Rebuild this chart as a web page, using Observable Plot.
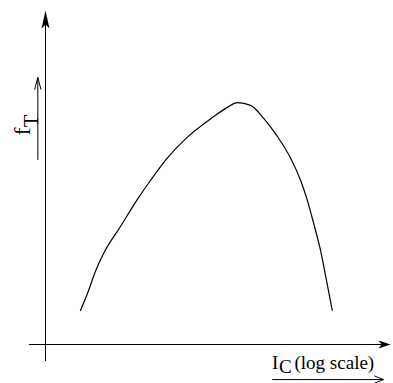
<!DOCTYPE html>
<html><head><meta charset="utf-8">
<script src="https://cdn.jsdelivr.net/npm/d3@7"></script>
<script src="https://cdn.jsdelivr.net/npm/@observablehq/plot@0.6"></script>
<style>body{margin:0;background:#fff}</style>
</head><body><div id="chart"></div>
<script>
// f_T versus I_C (log scale), arbitrary units (0..100 on each axis)
const curveX = [10.2,12.2,14.6,17.0,21.9,26.7,30.6,35.5,41.3,48.1,53.0,56.0,59.8,63.6,67.6,71.4,74.3,76.3,78.2,80.2,82.1,83.6];
const curveY = [10.2,15.2,22.0,27.4,35.4,43.3,49.1,55.8,62.0,67.5,71.0,72.4,71.6,67.7,62.3,55.9,49.3,43.3,36.2,28.1,18.2,10.2];
const xLabelParts = ["I", "C", "(log scale)"];
const yLabelParts = ["f", "T"];

const curve = curveX.map((x, i) => ({x, y: curveY[i]}));
const font = "'Liberation Serif', 'Times New Roman', serif";

const stealthY = {draw(ctx){ ctx.moveTo(0,0); ctx.lineTo(4,18); ctx.lineTo(0,14); ctx.lineTo(-4,18); ctx.closePath(); }};
const stealthX = {draw(ctx){ ctx.moveTo(0,0); ctx.lineTo(4,12); ctx.lineTo(0,9); ctx.lineTo(-4,12); ctx.closePath(); }};

const plot = Plot.plot({
  width: 393, height: 383,
  marginLeft: 45, marginRight: 5, marginTop: 10, marginBottom: 39,
  x: {domain: [0, 100], axis: null},
  y: {domain: [0, 100], axis: null},
  style: {background: "#fff", fontFamily: font},
  marks: [
    // axes
    Plot.ruleX([0], {y1: -5.1, y2: 97, stroke: "#000", strokeWidth: 1}),
    Plot.ruleY([0], {x1: -4.7, x2: 99, stroke: "#000", strokeWidth: 1}),
    Plot.dot([{x: 0, y: 100}], {x: "x", y: "y", symbol: stealthY, fill: "#000", stroke: "none"}),
    Plot.dot([{x: 100.6, y: 0}], {x: "x", y: "y", symbol: stealthX, rotate: 90, fill: "#000", stroke: "none"}),
    // curve
    Plot.line(curve, {x: "x", y: "y", curve: "monotone-x", stroke: "#000", strokeWidth: 1.2}),
    // x label
    Plot.text([xLabelParts[0]], {x: 66.0, y: -7.19, text: d => d, textAnchor: "start", lineAnchor: "bottom", fontSize: 19, fill: "#000"}),
    Plot.text([xLabelParts[1]], {x: 68.1, y: -8.68, text: d => d, textAnchor: "start", lineAnchor: "bottom", fontSize: 19, fill: "#000"}),
    Plot.text([xLabelParts[2]], {x: 72.6, y: -7.19, text: d => d, textAnchor: "start", lineAnchor: "bottom", fontSize: 19, fill: "#000"}),
    Plot.arrow([{x1: 66.2, x2: 98.5, y1: -10.5, y2: -10.5}], {x1: "x1", y1: "y1", x2: "x2", y2: "y2", stroke: "#000", strokeWidth: 1, headLength: 14, headAngle: 45}),
    // y label
    Plot.text([yLabelParts[0]], {x: -4.66, y: 62.6, text: d => d, rotate: -90, textAnchor: "start", lineAnchor: "bottom", fontSize: 24, fill: "#000"}),
    Plot.text([yLabelParts[1]], {x: -2.24, y: 65.1, text: d => d, rotate: -90, textAnchor: "start", lineAnchor: "bottom", fontSize: 20, fill: "#000"}),
    Plot.arrow([{x: -2.24, y1: 55.4, y2: 79.9}], {x1: "x", x2: "x", y1: "y1", y2: "y2", stroke: "#000", strokeWidth: 1, headLength: 18, headAngle: 30})
  ]
});
document.getElementById("chart").appendChild(plot);
</script>
</body></html>
